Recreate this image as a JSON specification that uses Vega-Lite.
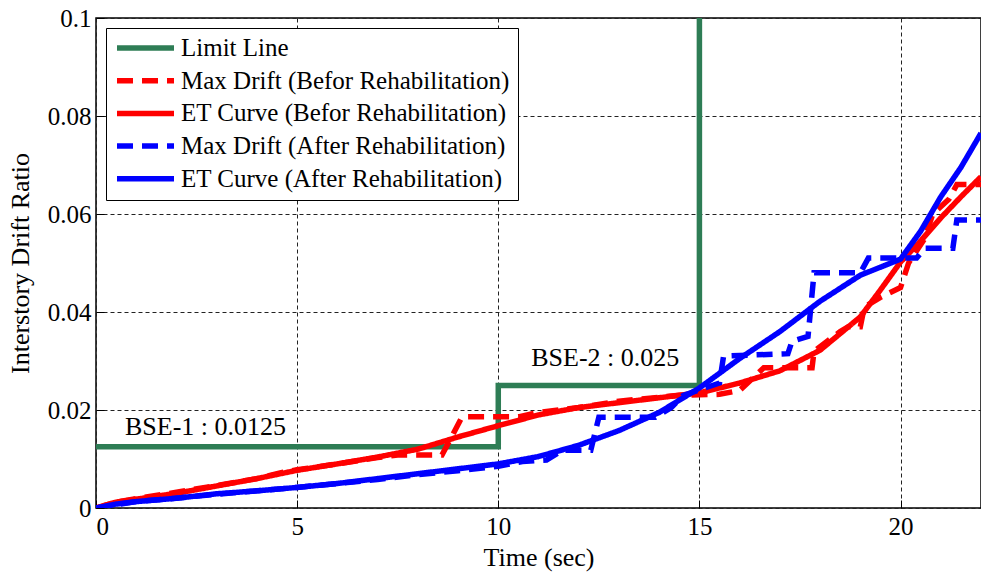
{
  "$schema": "https://vega.github.io/schema/vega-lite/v6.json",
  "width": 885,
  "height": 490,
  "autosize": {"type": "none"},
  "padding": {"left": 96, "top": 18, "right": 0, "bottom": 66},
  "background": "white",
  "config": {
    "font": "Liberation Serif",
    "view": {"stroke": "black", "strokeWidth": 1.5},
    "axis": {
      "labelFont": "Liberation Serif",
      "titleFont": "Liberation Serif",
      "labelFontSize": 25,
      "titleFontSize": 26,
      "labelColor": "black",
      "titleColor": "black",
      "titleFontWeight": "normal",
      "domain": false,
      "tickColor": "black",
      "tickSize": -8,
      "grid": true,
      "gridColor": "#222222",
      "gridDash": [4, 3],
      "gridWidth": 1
    },
    "legend": {
      "orient": "none",
      "legendX": 10,
      "legendY": 10,
      "fillColor": "white",
      "strokeColor": "black",
      "padding": 8,
      "symbolType": "stroke",
      "symbolSize": 3250,
      "symbolStrokeWidth": 5.5,
      "labelFont": "Liberation Serif",
      "labelFontSize": 25,
      "labelColor": "black",
      "labelLimit": 600,
      "clipHeight": 24,
      "rowPadding": 7.7,
      "labelOffset": 4
    }
  },
  "datasets": {
    "lines": [
      {"s": "Limit Line", "t": 0, "v": 0.0125},
      {"s": "Limit Line", "t": 10, "v": 0.0125},
      {"s": "Limit Line", "t": 10, "v": 0.025},
      {"s": "Limit Line", "t": 15, "v": 0.025},
      {"s": "Limit Line", "t": 15, "v": 0.1},

      {"s": "Max Drift (Befor Rehabilitation)", "t": 0, "v": 0},
      {"s": "Max Drift (Befor Rehabilitation)", "t": 0.5, "v": 0.0012},
      {"s": "Max Drift (Befor Rehabilitation)", "t": 1, "v": 0.0019},
      {"s": "Max Drift (Befor Rehabilitation)", "t": 2, "v": 0.0032},
      {"s": "Max Drift (Befor Rehabilitation)", "t": 3, "v": 0.0046},
      {"s": "Max Drift (Befor Rehabilitation)", "t": 4, "v": 0.006},
      {"s": "Max Drift (Befor Rehabilitation)", "t": 4.6, "v": 0.0072},
      {"s": "Max Drift (Befor Rehabilitation)", "t": 5, "v": 0.0078},
      {"s": "Max Drift (Befor Rehabilitation)", "t": 6, "v": 0.009},
      {"s": "Max Drift (Befor Rehabilitation)", "t": 7, "v": 0.0103},
      {"s": "Max Drift (Befor Rehabilitation)", "t": 7.5, "v": 0.0108},
      {"s": "Max Drift (Befor Rehabilitation)", "t": 8.6, "v": 0.0108},
      {"s": "Max Drift (Befor Rehabilitation)", "t": 9.1, "v": 0.0186},
      {"s": "Max Drift (Befor Rehabilitation)", "t": 10.5, "v": 0.0186},
      {"s": "Max Drift (Befor Rehabilitation)", "t": 11, "v": 0.0195},
      {"s": "Max Drift (Befor Rehabilitation)", "t": 12, "v": 0.0205},
      {"s": "Max Drift (Befor Rehabilitation)", "t": 13, "v": 0.0218},
      {"s": "Max Drift (Befor Rehabilitation)", "t": 14, "v": 0.0226},
      {"s": "Max Drift (Befor Rehabilitation)", "t": 14.5, "v": 0.023},
      {"s": "Max Drift (Befor Rehabilitation)", "t": 15.5, "v": 0.0232},
      {"s": "Max Drift (Befor Rehabilitation)", "t": 16, "v": 0.024},
      {"s": "Max Drift (Befor Rehabilitation)", "t": 16.6, "v": 0.0286},
      {"s": "Max Drift (Befor Rehabilitation)", "t": 17.8, "v": 0.0286},
      {"s": "Max Drift (Befor Rehabilitation)", "t": 17.85, "v": 0.032},
      {"s": "Max Drift (Befor Rehabilitation)", "t": 18.5, "v": 0.036},
      {"s": "Max Drift (Befor Rehabilitation)", "t": 18.7, "v": 0.037},
      {"s": "Max Drift (Befor Rehabilitation)", "t": 19.0, "v": 0.037},
      {"s": "Max Drift (Befor Rehabilitation)", "t": 19.1, "v": 0.041},
      {"s": "Max Drift (Befor Rehabilitation)", "t": 19.5, "v": 0.043},
      {"s": "Max Drift (Befor Rehabilitation)", "t": 20.0, "v": 0.045},
      {"s": "Max Drift (Befor Rehabilitation)", "t": 20.2, "v": 0.05},
      {"s": "Max Drift (Befor Rehabilitation)", "t": 20.6, "v": 0.055},
      {"s": "Max Drift (Befor Rehabilitation)", "t": 20.8, "v": 0.06},
      {"s": "Max Drift (Befor Rehabilitation)", "t": 21.2, "v": 0.063},
      {"s": "Max Drift (Befor Rehabilitation)", "t": 21.4, "v": 0.066},
      {"s": "Max Drift (Befor Rehabilitation)", "t": 22, "v": 0.066},

      {"s": "ET Curve (Befor Rehabilitation)", "t": 0, "v": 0},
      {"s": "ET Curve (Befor Rehabilitation)", "t": 0.5, "v": 0.0012},
      {"s": "ET Curve (Befor Rehabilitation)", "t": 1, "v": 0.0018},
      {"s": "ET Curve (Befor Rehabilitation)", "t": 2, "v": 0.003},
      {"s": "ET Curve (Befor Rehabilitation)", "t": 3, "v": 0.0045},
      {"s": "ET Curve (Befor Rehabilitation)", "t": 4, "v": 0.006},
      {"s": "ET Curve (Befor Rehabilitation)", "t": 5, "v": 0.0077},
      {"s": "ET Curve (Befor Rehabilitation)", "t": 6, "v": 0.009},
      {"s": "ET Curve (Befor Rehabilitation)", "t": 7, "v": 0.0104},
      {"s": "ET Curve (Befor Rehabilitation)", "t": 8, "v": 0.012},
      {"s": "ET Curve (Befor Rehabilitation)", "t": 9, "v": 0.0145},
      {"s": "ET Curve (Befor Rehabilitation)", "t": 10, "v": 0.0168},
      {"s": "ET Curve (Befor Rehabilitation)", "t": 11, "v": 0.019},
      {"s": "ET Curve (Befor Rehabilitation)", "t": 12, "v": 0.0205},
      {"s": "ET Curve (Befor Rehabilitation)", "t": 13, "v": 0.0215},
      {"s": "ET Curve (Befor Rehabilitation)", "t": 14, "v": 0.0225},
      {"s": "ET Curve (Befor Rehabilitation)", "t": 15, "v": 0.0235},
      {"s": "ET Curve (Befor Rehabilitation)", "t": 16, "v": 0.0255},
      {"s": "ET Curve (Befor Rehabilitation)", "t": 17, "v": 0.028},
      {"s": "ET Curve (Befor Rehabilitation)", "t": 18, "v": 0.0322},
      {"s": "ET Curve (Befor Rehabilitation)", "t": 19, "v": 0.039},
      {"s": "ET Curve (Befor Rehabilitation)", "t": 19.5, "v": 0.0445},
      {"s": "ET Curve (Befor Rehabilitation)", "t": 20, "v": 0.0502},
      {"s": "ET Curve (Befor Rehabilitation)", "t": 20.5, "v": 0.0545},
      {"s": "ET Curve (Befor Rehabilitation)", "t": 21, "v": 0.0592},
      {"s": "ET Curve (Befor Rehabilitation)", "t": 21.5, "v": 0.0635},
      {"s": "ET Curve (Befor Rehabilitation)", "t": 22, "v": 0.0676},

      {"s": "Max Drift (After Rehabilitation)", "t": 0, "v": 0},
      {"s": "Max Drift (After Rehabilitation)", "t": 1, "v": 0.0013},
      {"s": "Max Drift (After Rehabilitation)", "t": 2, "v": 0.002},
      {"s": "Max Drift (After Rehabilitation)", "t": 3, "v": 0.0028},
      {"s": "Max Drift (After Rehabilitation)", "t": 4, "v": 0.0035},
      {"s": "Max Drift (After Rehabilitation)", "t": 5, "v": 0.0042},
      {"s": "Max Drift (After Rehabilitation)", "t": 6, "v": 0.005},
      {"s": "Max Drift (After Rehabilitation)", "t": 7, "v": 0.0058},
      {"s": "Max Drift (After Rehabilitation)", "t": 8, "v": 0.0068},
      {"s": "Max Drift (After Rehabilitation)", "t": 9, "v": 0.0076},
      {"s": "Max Drift (After Rehabilitation)", "t": 10, "v": 0.0085},
      {"s": "Max Drift (After Rehabilitation)", "t": 10.6, "v": 0.0095},
      {"s": "Max Drift (After Rehabilitation)", "t": 11.2, "v": 0.0098},
      {"s": "Max Drift (After Rehabilitation)", "t": 11.6, "v": 0.0118},
      {"s": "Max Drift (After Rehabilitation)", "t": 12.3, "v": 0.0118},
      {"s": "Max Drift (After Rehabilitation)", "t": 12.5, "v": 0.0185},
      {"s": "Max Drift (After Rehabilitation)", "t": 13.9, "v": 0.0185},
      {"s": "Max Drift (After Rehabilitation)", "t": 14.3, "v": 0.0205},
      {"s": "Max Drift (After Rehabilitation)", "t": 14.6, "v": 0.023},
      {"s": "Max Drift (After Rehabilitation)", "t": 15.5, "v": 0.0255},
      {"s": "Max Drift (After Rehabilitation)", "t": 15.6, "v": 0.031},
      {"s": "Max Drift (After Rehabilitation)", "t": 17.2, "v": 0.0315},
      {"s": "Max Drift (After Rehabilitation)", "t": 17.3, "v": 0.034},
      {"s": "Max Drift (After Rehabilitation)", "t": 17.7, "v": 0.035},
      {"s": "Max Drift (After Rehabilitation)", "t": 17.85, "v": 0.048},
      {"s": "Max Drift (After Rehabilitation)", "t": 19.0, "v": 0.048},
      {"s": "Max Drift (After Rehabilitation)", "t": 19.2, "v": 0.051},
      {"s": "Max Drift (After Rehabilitation)", "t": 20.4, "v": 0.051},
      {"s": "Max Drift (After Rehabilitation)", "t": 20.6, "v": 0.053},
      {"s": "Max Drift (After Rehabilitation)", "t": 21.3, "v": 0.053},
      {"s": "Max Drift (After Rehabilitation)", "t": 21.4, "v": 0.0588},
      {"s": "Max Drift (After Rehabilitation)", "t": 22, "v": 0.0588},

      {"s": "ET Curve (After Rehabilitation)", "t": 0, "v": 0},
      {"s": "ET Curve (After Rehabilitation)", "t": 0.5, "v": 0.0008},
      {"s": "ET Curve (After Rehabilitation)", "t": 1, "v": 0.0013},
      {"s": "ET Curve (After Rehabilitation)", "t": 2, "v": 0.002},
      {"s": "ET Curve (After Rehabilitation)", "t": 3, "v": 0.0029},
      {"s": "ET Curve (After Rehabilitation)", "t": 4, "v": 0.0035},
      {"s": "ET Curve (After Rehabilitation)", "t": 5, "v": 0.0042},
      {"s": "ET Curve (After Rehabilitation)", "t": 6, "v": 0.005},
      {"s": "ET Curve (After Rehabilitation)", "t": 7, "v": 0.006},
      {"s": "ET Curve (After Rehabilitation)", "t": 8, "v": 0.007},
      {"s": "ET Curve (After Rehabilitation)", "t": 9, "v": 0.008},
      {"s": "ET Curve (After Rehabilitation)", "t": 10, "v": 0.009},
      {"s": "ET Curve (After Rehabilitation)", "t": 11, "v": 0.0105},
      {"s": "ET Curve (After Rehabilitation)", "t": 12, "v": 0.0128},
      {"s": "ET Curve (After Rehabilitation)", "t": 13, "v": 0.0158},
      {"s": "ET Curve (After Rehabilitation)", "t": 14, "v": 0.0195},
      {"s": "ET Curve (After Rehabilitation)", "t": 15, "v": 0.0245},
      {"s": "ET Curve (After Rehabilitation)", "t": 16, "v": 0.0305},
      {"s": "ET Curve (After Rehabilitation)", "t": 17, "v": 0.036},
      {"s": "ET Curve (After Rehabilitation)", "t": 18, "v": 0.0422},
      {"s": "ET Curve (After Rehabilitation)", "t": 19, "v": 0.0475},
      {"s": "ET Curve (After Rehabilitation)", "t": 20, "v": 0.0508},
      {"s": "ET Curve (After Rehabilitation)", "t": 20.5, "v": 0.0565},
      {"s": "ET Curve (After Rehabilitation)", "t": 21, "v": 0.0635},
      {"s": "ET Curve (After Rehabilitation)", "t": 21.5, "v": 0.0695},
      {"s": "ET Curve (After Rehabilitation)", "t": 22, "v": 0.0765}
    ],
    "notes": [
      {"t": 0.72, "v": 0.0148, "label": "BSE-1 : 0.0125"},
      {"t": 10.82, "v": 0.0290, "label": "BSE-2 : 0.025"}
    ]
  },
  "layer": [
    {
      "data": {"name": "lines"},
      "mark": {"type": "line", "strokeWidth": 5.5, "clip": true},
      "encoding": {
        "x": {
          "field": "t", "type": "quantitative",
          "scale": {"domain": [0, 22], "nice": false, "zero": false},
          "axis": {"title": "Time (sec)", "values": [0, 5, 10, 15, 20], "labelPadding": 14, "titlePadding": 5}
        },
        "y": {
          "field": "v", "type": "quantitative",
          "scale": {"domain": [0, 0.1], "nice": false},
          "axis": {"title": "Interstory Drift Ratio", "values": [0, 0.02, 0.04, 0.06, 0.08, 0.1], "format": ".2~f", "labelPadding": 13, "titlePadding": 14}
        },
        "color": {
          "field": "s", "type": "nominal",
          "scale": {
            "domain": ["Limit Line", "Max Drift (Befor Rehabilitation)", "ET Curve (Befor Rehabilitation)", "Max Drift (After Rehabilitation)", "ET Curve (After Rehabilitation)"],
            "range": ["#2e7d55", "#ff0000", "#ff0000", "#0000ff", "#0000ff"]
          },
          "legend": {"title": null}
        },
        "strokeDash": {
          "field": "s", "type": "nominal",
          "scale": {
            "domain": ["Limit Line", "Max Drift (Befor Rehabilitation)", "ET Curve (Befor Rehabilitation)", "Max Drift (After Rehabilitation)", "ET Curve (After Rehabilitation)"],
            "range": [[1, 0], [16, 9], [1, 0], [16, 9], [1, 0]]
          },
          "legend": {"title": null}
        },
        "order": {"value": null}
      }
    },
    {
      "data": {"name": "notes"},
      "mark": {"type": "text", "align": "left", "baseline": "alphabetic", "fontSize": 26, "font": "Liberation Serif", "color": "black"},
      "encoding": {
        "x": {"field": "t", "type": "quantitative"},
        "y": {"field": "v", "type": "quantitative"},
        "text": {"field": "label"}
      }
    }
  ]
}
